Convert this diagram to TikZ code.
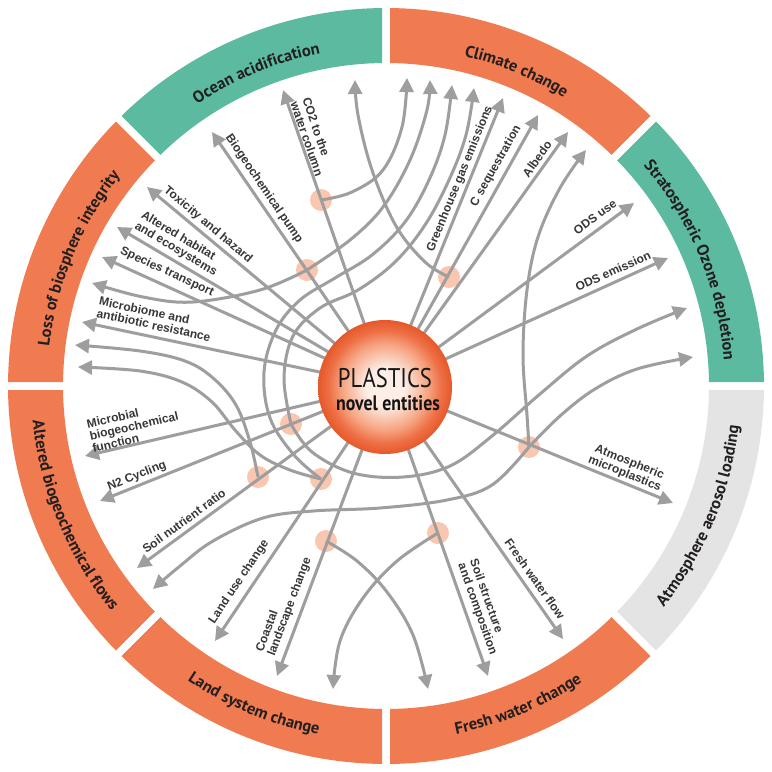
\documentclass[tikz,border=0pt]{standalone}
\usepackage{fontspec}
\setmainfont{Liberation Sans}
\newfontfamily\ringfont{PT Sans}
\newfontfamily\plasfont[FakeStretch=0.84]{PT Sans}
\newfontfamily\novelfont[FakeStretch=0.85]{PT Sans}
\usetikzlibrary{arrows.meta,decorations.text}
\definecolor{bandorange}{RGB}{240,123,80}
\definecolor{bandteal}{RGB}{92,186,160}
\definecolor{bandgray}{RGB}{228,228,228}
\definecolor{linegray}{RGB}{158,158,158}
\definecolor{dotpink}{RGB}{249,198,176}
\definecolor{labeltext}{RGB}{55,55,55}
\definecolor{ringtext}{RGB}{35,31,32}
\definecolor{ballcenter}{RGB}{253,238,231}
\definecolor{ballmid}{RGB}{246,165,130}
\definecolor{ballorange}{RGB}{238,112,70}
\definecolor{balledge}{RGB}{230,88,42}
\pgfdeclareradialshading{plasticsball}{\pgfpoint{0bp}{0bp}}{color(0bp)=(ballcenter); color(7bp)=(ballcenter); color(16bp)=(ballmid); color(21bp)=(ballorange); color(25bp)=(balledge); color(50bp)=(balledge)}
\newcommand\ringband[3]{%
  \fill[#3] ([shift={(C)}]{#1+0.606}:378) arc[start angle={#1+0.606}, end angle={#2-0.606}, radius=378]
    -- ([shift={(C)}]{#2-0.71}:323) arc[start angle={#2-0.71}, end angle={#1+0.71}, radius=323] -- cycle;}
\begin{document}
\begin{tikzpicture}[x=1pt,y=1pt,line join=round,
  arr/.style={draw=linegray, line width=3pt, -{Triangle[length=14pt,width=14pt]}},
  curv/.style={arr},
  lbl/.style={font=\bfseries\fontsize{12}{12.5}\selectfont, text=labeltext, inner sep=0pt},
  pinkdot/.style={circle, fill=dotpink, minimum size=22pt, inner sep=0pt},
  ringtop/.style={decorate, decoration={text along path, text align=center, text color=ringtext, text={|\ringfont\bfseries\fontsize{16.5}{16.5}\selectfont|#1}}},
]
\useasboundingbox (0,0) rectangle (772,-772);
\fill[white] (0,0) rectangle (772,-772);
\coordinate (C) at (386,-386);
% ring bands
\ringband{0}{45}{bandteal}
\ringband{45}{90}{bandorange}
\ringband{90}{135}{bandteal}
\ringband{135}{180}{bandorange}
\ringband{180}{225}{bandorange}
\ringband{225}{270}{bandorange}
\ringband{270}{315}{bandorange}
\ringband{315}{360}{bandgray}
% ring labels
\path[ringtop={Stratospheric Ozone depletion}] ([shift={(C)}]45:339) arc[start angle=45, end angle=0, radius=339];
\path[ringtop={Climate change}] ([shift={(C)}]90:339) arc[start angle=90, end angle=45, radius=339];
\path[ringtop={Ocean acidification}] ([shift={(C)}]135:339) arc[start angle=135, end angle=90, radius=339];
\path[ringtop={Loss of biosphere integrity}] ([shift={(C)}]180:339) arc[start angle=180, end angle=135, radius=339];
\path[ringtop={Altered biogeochemical flows}] ([shift={(C)}]180:355) arc[start angle=180, end angle=225, radius=355];
\path[ringtop={Land system change}] ([shift={(C)}]225:355) arc[start angle=225, end angle=270, radius=355];
\path[ringtop={Fresh water change}] ([shift={(C)}]270:355) arc[start angle=270, end angle=315, radius=355];
\path[ringtop={Atmosphere aerosol loading}] ([shift={(C)}]315:355) arc[start angle=315, end angle=360, radius=355];
% pink dots
\node[pinkdot] (d1) at (321,-200) {};
\node[pinkdot] (d2) at (307,-270) {};
\node[pinkdot] (d3) at (449,-277) {};
\node[pinkdot] (d4) at (291,-424) {};
\node[pinkdot] (d5) at (258,-477) {};
\node[pinkdot] (d6) at (321,-479) {};
\node[pinkdot] (d7) at (529,-447) {};
\node[pinkdot] (d8) at (326,-541) {};
\node[pinkdot] (d9) at (438,-533) {};
% arrow tips
\coordinate (tCO2) at (283,-90);
\coordinate (tBio) at (212,-132);
\coordinate (tTox) at (147,-187);
\coordinate (tAlt) at (117,-227);
\coordinate (tSpe) at (102,-257);
\coordinate (tMic) at (82,-322);
\coordinate (tMbf) at (85,-456);
\coordinate (tN2) at (100,-501);
\coordinate (tSnr) at (137,-568);
\coordinate (tLuc) at (215,-641);
\coordinate (tCoa) at (277,-676);
\coordinate (tSoil) at (488,-676);
\coordinate (tFwf) at (563,-639);
\coordinate (tAtm) at (673,-503);
\coordinate (tOdse) at (668,-258);
\coordinate (tOdsu) at (634,-203);
\coordinate (tAlb) at (568,-132);
\coordinate (tCseq) at (538,-115);
\coordinate (tGhg) at (503,-98);
\coordinate (cD1) at (407,-78);
\coordinate (cD2u) at (430,-80);
\coordinate (cD2d) at (92,-283);
\coordinate (cD3) at (355,-80);
\coordinate (cOut) at (452,-85);
\coordinate (cInU) at (474,-88);
\coordinate (cInR) at (687,-308);
\coordinate (cD7u) at (586,-150);
\coordinate (cD7r) at (693,-357);
\coordinate (cD7l) at (153,-589);
\coordinate (cD5) at (75,-345);
\coordinate (cD6) at (78,-367);
\coordinate (cD8) at (428,-689);
\coordinate (cD9) at (333,-689);
% straight arrows
\foreach \t in {tCO2,tBio,tTox,tAlt,tSpe,tMic,tMbf,tN2,tSnr,tLuc,tCoa,tSoil,tFwf,tAtm,tOdse,tOdsu,tAlb,tCseq,tGhg}
  \draw[arr] (C) -- (\t);
% curved connectors
\draw[curv] plot[smooth, tension=0.6] coordinates {(d1.center) (352,-192) (383,-170) (402,-127) (cD1)};
\draw[curv] plot[smooth, tension=0.6] coordinates {(d2.center) (350,-240) (383,-207) (410,-160) (427,-110) (cD2u)};
\draw[curv] plot[smooth, tension=0.6] coordinates {(d2.center) (260,-290) (193,-302) (143,-297) (cD2d)};
\draw[curv] plot[smooth, tension=0.6] coordinates {(d3.center) (425,-262) (396,-226) (372,-170) (358,-115) (cD3)};
\draw[curv] plot[smooth, tension=0.6] coordinates {(d6.center) (294,-455) (270,-418) (264,-372) (276,-330) (300,-300) (335,-278) (372,-255) (405,-222) (429,-180) (445,-135) (cOut)};
\draw[curv] plot[smooth, tension=0.6] coordinates {(d4.center) (284,-378) (293,-336) (320,-308) (358,-290) (395,-262) (425,-225) (449,-180) (466,-135) (cInU)};
\draw[curv] plot[smooth, tension=0.6] coordinates {(d4.center) (312,-452) (353,-473) (403,-477) (450,-466) (492,-436) (540,-394) (587,-356) (637,-329) (cInR)};
\draw[curv] plot[smooth, tension=0.6] coordinates {(d7.center) (527,-415) (523,-355) (527,-290) (538,-237) (560,-188) (cD7u)};
\draw[curv] plot[smooth, tension=0.6] coordinates {(d7.center) (560,-416) (595,-389) (637,-369) (cD7r)};
\draw[curv] plot[smooth, tension=0.6] coordinates {(d7.center) (492,-485) (447,-500) (380,-508) (313,-511) (263,-518) (213,-541) (180,-566) (cD7l)};
\draw[curv] plot[smooth, tension=0.6] coordinates {(d5.center) (250,-442) (236,-405) (213,-378) (185,-361) (140,-351) (cD5)};
\draw[curv] plot[smooth, tension=0.6] coordinates {(d6.center) (290,-470) (260,-455) (235,-430) (212,-402) (182,-382) (140,-371) (cD6)};
\draw[curv] plot[smooth, tension=0.6] coordinates {(d8.center) (357,-561) (387,-592) (413,-635) (cD8)};
\draw[curv] plot[smooth, tension=0.6] coordinates {(d9.center) (397,-561) (363,-598) (340,-641) (cD9)};
% central ball
\node[circle, minimum size=134pt, inner sep=0pt, shade, shading=plasticsball] (core) at (385,-387) {};
\node[font=\plasfont\fontsize{27}{27}\selectfont, text=black!90, anchor=base, inner sep=0pt] (plas) at (385,-387) {PLASTICS};
\node[font=\novelfont\bfseries\fontsize{21}{21}\selectfont, text=black!92, anchor=base, inner sep=0pt] (novel) at (388,-410) {novel entities};
% labels
\node[lbl, rotate=-71, align=left] (lCO2) at (313,-137) {CO2 to the\\water column};
\node[lbl, rotate=-55.8] (lBio) at (264,-189) {Biogeochemical pump};
\node[lbl, rotate=-40] (lTox) at (208,-225) {Toxicity and hazard};
\node[lbl, rotate=-30.8, align=left] (lAlt) at (179,-244) {Altered habitat\\and ecosystems};
\node[lbl, rotate=-24.7] (lSpe) at (167,-272) {Species transport};
\node[lbl, rotate=-12.1, align=left] (lMic) at (155,-319) {Microbiome and\\antibiotic resistance};
\node[lbl, rotate=13, align=left] (lMbf) at (134,-426) {Microbial\\biogeochemical\\function};
\node[lbl, rotate=21.8] (lN2) at (137,-476) {N2 Cycling};
\node[lbl, rotate=36.1] (lSnr) at (184,-521) {Soil nutrient ratio};
\node[lbl, rotate=56.2] (lLuc) at (239,-582) {Land use change};
\node[lbl, rotate=69.5, align=left] (lCoa) at (284,-605) {Coastal\\landscape change};
\node[lbl, rotate=-70.4, align=left] (lSoil) at (483,-607) {Soil structure\\and composition};
\node[lbl, rotate=-54.8] (lFwf) at (535,-579) {Fresh water flow};
\node[lbl, rotate=-21.9, align=center] (lAtm) at (627,-468) {Atmospheric\\microplastics};
\node[lbl, rotate=24.5] (lOdse) at (613,-271) {ODS emission};
\node[lbl, rotate=36.5] (lOdsu) at (595,-217) {ODS use};
\node[lbl, rotate=54.3] (lAlb) at (537,-159) {Albedo};
\node[lbl, rotate=60.6] (lCseq) at (496,-166) {C sequestration};
\node[lbl, rotate=67.8] (lGhg) at (460,-179) {Greenhouse gas emissions};
\end{tikzpicture}
\end{document}
